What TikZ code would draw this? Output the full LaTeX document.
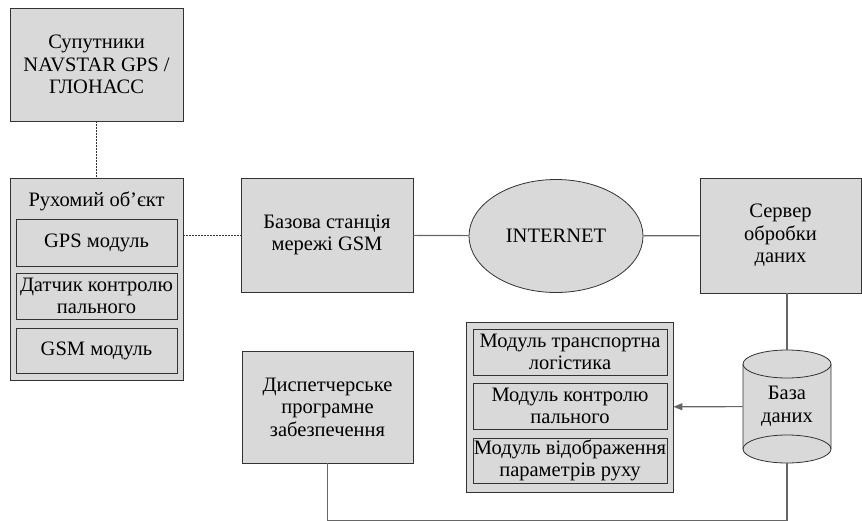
\documentclass[tikz,border=0pt]{standalone}
\usepackage{fontspec}
\setmainfont{Liberation Serif}
\usetikzlibrary{shapes.geometric, arrows.meta}
\tikzset{
    block/.style={draw=black!80, fill=gray!30, line width=0.8pt, align=center, inner sep=0pt,
                  font=\fontsize{20.5}{22.5}\selectfont}, % grey boxes
    inner/.style={block, line width=0.8pt}, % boxes inside a box
    tank/.style={draw=black!80, fill=gray!30, line width=0.8pt}, % database drum
    link/.style={draw=black!60, line width=1.2pt}, % plain connectors
    radio/.style={draw=black!80, line width=0.9pt, dash pattern=on 2pt off 1pt}, % wireless links
}
\begin{document}
\begin{tikzpicture}[x=1pt, y=-1pt]
    \useasboundingbox (0,0) rectangle (862,520);
    % left column
    \node[block, minimum width=173, minimum height=113] (sat) at (96.5,64.5) {Супутники\\NAVSTAR GPS /\\ГЛОНАСС};
    \node[block, minimum width=173, minimum height=202] (obj) at (96.5,279) {};
    \node[font=\fontsize{20.5}{22.5}\selectfont] (objtitle) at (96.5,201) {Рухомий об’єкт};
    \node[inner, minimum width=161, minimum height=47] (gps) at (96.5,242.5) {GPS модуль};
    \node[inner, minimum width=161, minimum height=46] (fuel) at (96.5,296) {Датчик контролю\\пального};
    \node[inner, minimum width=161, minimum height=45] (gsm) at (96.5,350.5) {GSM модуль};
    % top row
    \node[block, minimum width=172, minimum height=114] (base) at (327,235) {Базова станція\\мережі GSM};
    \node[block, ellipse, minimum width=174, minimum height=113] (inet) at (556,236) {INTERNET};
    \node[block, minimum width=161, minimum height=115] (serv) at (780.5,235.5) {Сервер\\обробки\\даних};
    % bottom row
    \node[block, minimum width=171, minimum height=112] (disp) at (327.5,407) {Диспетчерське\\програмне\\забезпечення};
    \node[block, minimum width=207, minimum height=170] (mods) at (569.5,407) {};
    \node[inner, minimum width=194, minimum height=46] (logist) at (570,352) {Модуль транспортна\\логістика};
    \node[inner, minimum width=194, minimum height=46] (fctrl) at (570,406) {Модуль контролю\\пального};
    \node[inner, minimum width=194, minimum height=45] (motion) at (570,460.5) {Модуль відображення\\параметрів руху};
    % database drum
    \draw[tank] (743,364) -- (743,449) arc[start angle=180, end angle=0, x radius=44, y radius=14] -- (831,364);
    \draw[tank, fill=none] (743,449) arc[start angle=180, end angle=360, x radius=44, y radius=14];
    \draw[tank] (787,364) ellipse[x radius=44, y radius=14];
    \node[block, draw=none, fill=none, minimum width=88, minimum height=113] (db) at (787,406.5) {База\\даних};

    \draw[radio] (sat) -- (obj);
    \draw[radio] (obj.east |- base.west) -- (base.west);
    \draw[link] (base) -- (inet) -- (serv);
    \draw[link] (db.north |- serv.south) -- (db.north);
    \draw[link, -{Triangle[length=9pt, width=7pt]}] (db) -- (mods);
    \draw[link] (disp.south) -- ++(0,57) -| (db.south);
\end{tikzpicture}
\end{document}
